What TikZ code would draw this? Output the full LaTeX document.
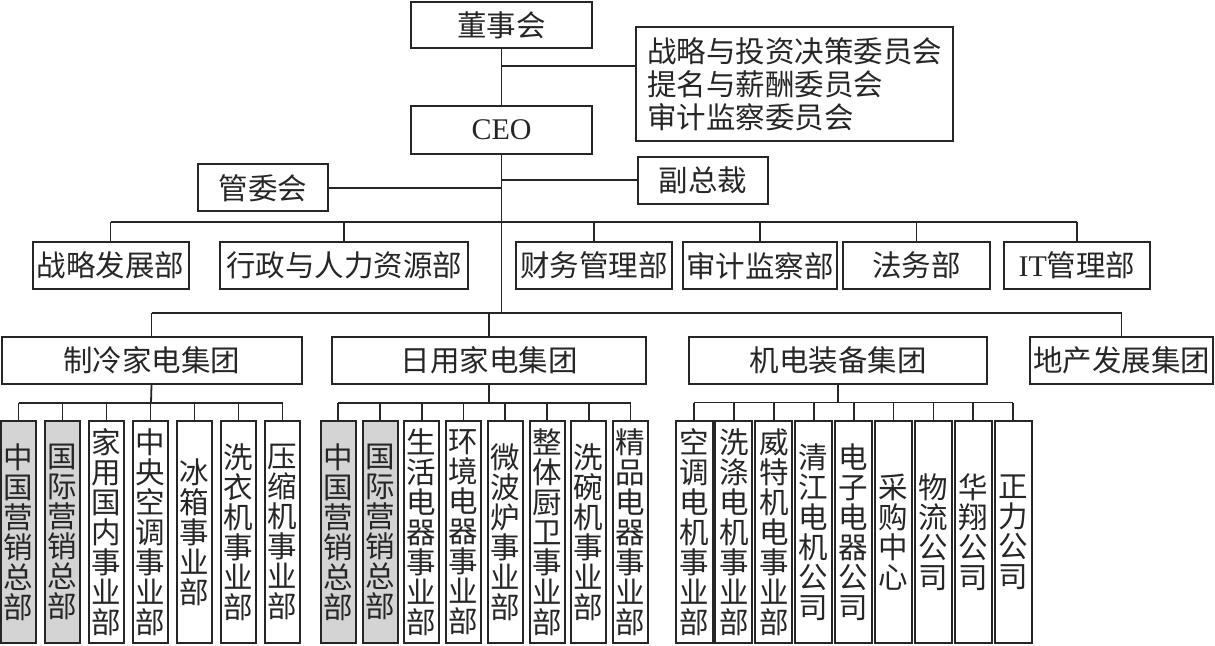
\documentclass[tikz,border=0pt]{standalone}
\usepackage{fontspec}
\setmainfont{Liberation Serif}
\newfontfamily\cjk{Noto Sans CJK SC}
\begin{document}
\begin{tikzpicture}[x=1pt,y=-1pt,
  box/.style={draw=black!85,line width=2pt,inner sep=0pt,align=center,
    font=\cjk\fontsize{29.5}{30}\selectfont,text=black!85},
  hbox/.style={box,minimum height=47pt},
  col/.style={box,minimum width=35pt,minimum height=222pt},
  colw/.style={box,minimum width=37pt,minimum height=222pt},
  grey/.style={fill=black!17},
  latin/.style={font=\rmfamily\fontsize{30}{32}\selectfont},
  conn/.style={draw=black!85,line width=1.8pt}]
\useasboundingbox (0,0) rectangle (1215,645);
% top
\node[hbox,minimum width=181pt,minimum height=46.5pt] (dsh) at (501.5,25.2) {董事会};
\node[box,minimum width=317pt,minimum height=113.5pt,text width=295pt,align=left,
  font=\cjk\fontsize{29.5}{33}\selectfont] (wyh) at (794.5,84.2)
  {战略与投资决策委员会\\提名与薪酬委员会\\审计监察委员会};
\node[hbox,latin,minimum width=181pt,minimum height=48pt] (ceo) at (501.5,130) {CEO};
\node[hbox,minimum width=130pt] (gwh) at (263,187.8) {管委会};
\node[hbox,minimum width=130pt] (fzc) at (703,180.3) {副总裁};
% departments
\node[hbox,minimum width=156pt] (zlfz) at (110.5,265.7) {战略发展部};
\node[hbox,minimum width=248pt] (xz) at (344,265.7) {行政与人力资源部};
\node[hbox,minimum width=156pt] (cw) at (594,265.7) {财务管理部};
\node[hbox,minimum width=154pt] (sj) at (760,265.7) {审计监察部};
\node[hbox,minimum width=147pt] (fw) at (916.5,265.7) {法务部};
\node[hbox,minimum width=146pt] (it) at (1077,265.7) {{\rmfamily\fontsize{30}{32}\selectfont IT}管理部};
% groups
\node[hbox,minimum width=300pt] (zl) at (151.5,360.5) {制冷家电集团};
\node[hbox,minimum width=314pt] (ry) at (489,360.5) {日用家电集团};
\node[hbox,minimum width=298pt] (jd) at (838.2,360.5) {机电装备集团};
\node[hbox,minimum width=183pt] (dc) at (1121.5,360.5) {地产发展集团};
% columns: refrigeration
\node[col,grey] (a1) at (18.5,532) {中\\国\\营\\销\\总\\部};
\node[col,grey] (a2) at (62.5,532) {国\\际\\营\\销\\总\\部};
\node[col] (a3) at (106.5,532) {家\\用\\国\\内\\事\\业\\部};
\node[col] (a4) at (150.5,532) {中\\央\\空\\调\\事\\业\\部};
\node[col] (a5) at (194.5,532) {冰\\箱\\事\\业\\部};
\node[col] (a6) at (238.5,532) {洗\\衣\\机\\事\\业\\部};
\node[col] (a7) at (282.5,532) {压\\缩\\机\\事\\业\\部};
% columns: daily-use
\node[col,grey] (b1) at (338.2,532) {中\\国\\营\\销\\总\\部};
\node[col,grey] (b2) at (380,532) {国\\际\\营\\销\\总\\部};
\node[col] (b3) at (421.7,532) {生\\活\\电\\器\\事\\业\\部};
\node[col] (b4) at (463.5,532) {环\\境\\电\\器\\事\\业\\部};
\node[col] (b5) at (505.2,532) {微\\波\\炉\\事\\业\\部};
\node[col] (b6) at (547,532) {整\\体\\厨\\卫\\事\\业\\部};
\node[col] (b7) at (588.7,532) {洗\\碗\\机\\事\\业\\部};
\node[col] (b8) at (630.5,532) {精\\品\\电\\器\\事\\业\\部};
% columns: electromechanical
\node[colw] (c1) at (694,532) {空\\调\\电\\机\\事\\业\\部};
\node[colw] (c2) at (733.9,532) {洗\\涤\\电\\机\\事\\业\\部};
\node[colw] (c3) at (773.8,532) {威\\特\\机\\电\\事\\业\\部};
\node[colw] (c4) at (813.7,532) {清\\江\\电\\机\\公\\司};
\node[colw] (c5) at (853.6,532) {电\\子\\电\\器\\公\\司};
\node[colw] (c6) at (893.5,532) {采\\购\\中\\心};
\node[colw] (c7) at (933.4,532) {物\\流\\公\\司};
\node[colw] (c8) at (973.3,532) {华\\翔\\公\\司};
\node[colw] (c9) at (1013.2,532) {正\\力\\公\\司};
% junction coordinates
\coordinate (j1) at (501.5,65.7);
\coordinate (busA) at (501.5,222.3);
\coordinate (busB) at (501.5,313.3);
\coordinate (subA) at (151,402.7);
\coordinate (subB) at (489,403);
\coordinate (subC) at (838.2,402.5);
% connectors
\draw[conn] (dsh.south) -- (ceo.north);
\draw[conn] (j1) -- (j1 -| wyh.west);
\draw[conn] (ceo.south) -- (busB);
\draw[conn] (busA |- fzc.west) -- (fzc.west);
\draw[conn] (busA |- gwh.east) -- (gwh.east);
\draw[conn] (zlfz.north |- busA) -- (it.north |- busA);
\foreach \n in {zlfz,xz,cw,sj,fw,it} \draw[conn] (\n.north) -- (\n.north |- busA);
\draw[conn] (zl.north |- busB) -- (dc.north |- busB);
\foreach \n in {zl,ry,dc} \draw[conn] (\n.north) -- (\n.north |- busB);
% sub buses
\draw[conn] (zl.south) -- (subA);
\draw[conn] (a1.north |- subA) -- (a7.north |- subA);
\foreach \n in {a1,a2,a3,a4,a5,a6,a7} \draw[conn] (\n.north) -- (\n.north |- subA);
\draw[conn] (ry.south) -- (subB);
\draw[conn] (b1.north |- subB) -- (b8.north |- subB);
\foreach \n in {b1,b2,b3,b4,b5,b6,b7,b8} \draw[conn] (\n.north) -- (\n.north |- subB);
\draw[conn] (jd.south) -- (subC);
\draw[conn] (c1.north |- subC) -- (c9.north |- subC);
\foreach \n in {c1,c2,c3,c4,c5,c6,c7,c8,c9} \draw[conn] (\n.north) -- (\n.north |- subC);
\end{tikzpicture}
\end{document}
